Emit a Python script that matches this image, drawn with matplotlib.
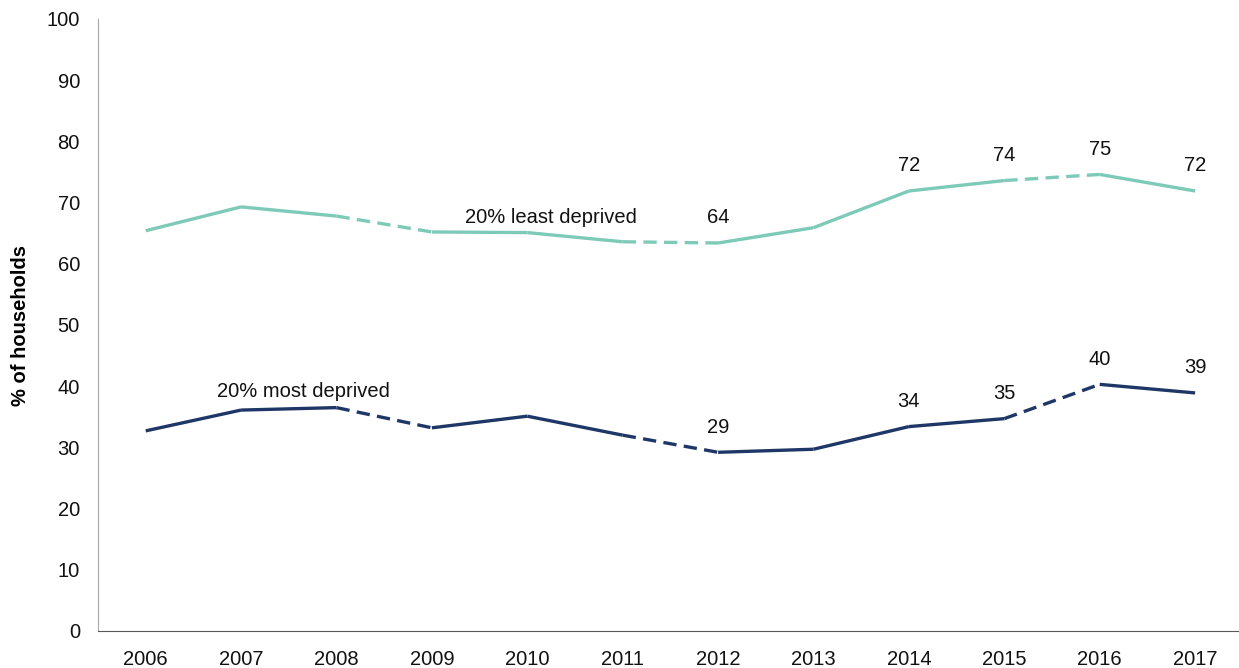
import numpy as np
import matplotlib.pyplot as plt

plt.rcParams['font.family'] = ['Liberation Sans', 'DejaVu Sans']

years = [2006, 2007, 2008, 2009, 2010, 2011, 2012, 2013, 2014, 2015, 2016, 2017]
least = [65.4, 69.3, 67.8, 65.2, 65.1, 63.6, 63.4, 65.9, 71.9, 73.6, 74.6, 71.9]
most = [32.7, 36.1, 36.5, 33.2, 35.1, 32.0, 29.2, 29.7, 33.4, 34.7, 40.3, 38.9]
# segment i joins year i and i+1; True = dashed
dashed = [False, False, True, False, False, True, False, False, False, True, False]
least_labels = {6: "64", 8: "72", 9: "74", 10: "75", 11: "72"}
most_labels = {6: "29", 8: "34", 9: "35", 10: "40", 11: "39"}

teal = "#7DCAB9"
navy = "#1F3766"
fs = 14.5

fig = plt.figure(figsize=(12.39, 6.68), dpi=100)
ax = fig.add_axes([98/1239, 37/668, 1 - 98/1239, 612/668])

x = np.arange(len(years))
for vals, col in [(least, teal), (most, navy)]:
    for i in range(len(x) - 1):
        ls = (0, (4, 2.2)) if dashed[i] else "-"
        ax.plot(x[i:i+2], vals[i:i+2], color=col, lw=2.4, linestyle=ls,
                solid_capstyle="butt", dash_capstyle="butt")

for i, t in least_labels.items():
    ax.text(x[i], least[i] + 4.1, t, ha="center", va="center", fontsize=fs, color="#111111")
for i, t in most_labels.items():
    ax.text(x[i], most[i] + 4.1, t, ha="center", va="center", fontsize=fs, color="#111111")

ax.text(4.25, 67.6, "20% least deprived", ha="center", va="center", fontsize=fs, color="#111111")
ax.text(1.65, 39.1, "20% most deprived", ha="center", va="center", fontsize=fs, color="#111111")

ax.set_xlim(-0.5, 11.46)
ax.set_ylim(0, 100)
ax.set_yticks(range(0, 101, 10))
ax.set_xticks(x)
ax.set_xticklabels([str(y) for y in years])
ax.tick_params(length=0, labelsize=fs, colors="#111111")
ax.tick_params(axis="y", pad=13)
ax.tick_params(axis="x", pad=14)
ax.set_ylabel("% of households", fontsize=fs, fontweight="bold", labelpad=12)

ax.spines["top"].set_visible(False)
ax.spines["right"].set_visible(False)
ax.spines["left"].set_color("#A6A6A6")
ax.spines["bottom"].set_color("#595959")

fig.savefig("out.png", dpi=100)
